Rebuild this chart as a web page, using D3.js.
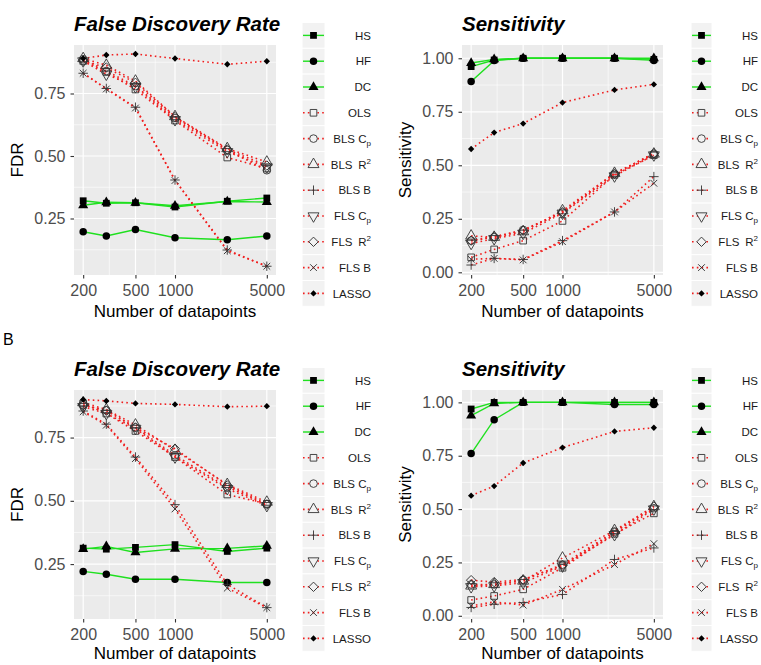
<!DOCTYPE html>
<html>
<head>
<meta charset="utf-8">
<script src="https://cdn.jsdelivr.net/npm/d3@7"></script>
<style>
body { margin: 0; background: #fff; }
text { font-family: "Liberation Sans", Arial, sans-serif; }
</style>
</head>
<body>
<div id="chart"></div>
<script>
// x values (number of datapoints) and tick labels
var datapoints = [200, 300, 500, 1000, 2500, 5000];
var xTicks = [200, 500, 1000, 5000];
var fdrTicks = [0.25, 0.50, 0.75];
var sensTicks = [0.00, 0.25, 0.50, 0.75, 1.00];

var methods = ["HS", "HF", "DC", "OLS", "BLS Cp", "BLS R2", "BLS B", "FLS Cp", "FLS R2", "FLS B", "LASSO"];
var legendLabels = ["HS", "HF", "DC", "OLS", "BLS C_p", "BLS\u2002R^2", "BLS B", "FLS C_p", "FLS\u2002R^2", "FLS B", "LASSO"];

// one row per method, in the order of `methods`
var fdrA = [
  [0.321, 0.311, 0.313, 0.296, 0.319, 0.332],
  [0.197, 0.180, 0.206, 0.173, 0.165, 0.180],
  [0.303, 0.315, 0.313, 0.301, 0.318, 0.316],
  [0.880, 0.836, 0.766, 0.642, 0.494, 0.450],
  [0.887, 0.840, 0.780, 0.652, 0.524, 0.443],
  [0.890, 0.863, 0.800, 0.658, 0.530, 0.476],
  [0.831, 0.770, 0.695, 0.404, 0.124, 0.059],
  [0.880, 0.827, 0.777, 0.645, 0.517, 0.456],
  [0.880, 0.854, 0.793, 0.656, 0.526, 0.462],
  [0.831, 0.768, 0.692, 0.402, 0.121, 0.059],
  [0.890, 0.904, 0.908, 0.890, 0.867, 0.879]
];
var sensA = [
  [0.961, 0.992, 1.000, 1.000, 1.000, 0.995],
  [0.891, 0.989, 1.000, 1.000, 1.000, 0.990],
  [0.978, 0.995, 1.000, 1.000, 1.000, 1.000],
  [0.070, 0.107, 0.148, 0.240, 0.455, 0.547],
  [0.148, 0.164, 0.198, 0.279, 0.460, 0.553],
  [0.170, 0.164, 0.190, 0.288, 0.463, 0.553],
  [0.034, 0.065, 0.060, 0.148, 0.282, 0.447],
  [0.135, 0.157, 0.182, 0.276, 0.450, 0.548],
  [0.148, 0.167, 0.195, 0.282, 0.460, 0.556],
  [0.061, 0.065, 0.058, 0.143, 0.282, 0.416],
  [0.576, 0.653, 0.695, 0.793, 0.852, 0.878]
];
var fdrB = [
  [0.313, 0.309, 0.316, 0.327, 0.300, 0.313],
  [0.221, 0.210, 0.190, 0.190, 0.177, 0.177],
  [0.309, 0.320, 0.296, 0.310, 0.312, 0.322],
  [0.885, 0.845, 0.776, 0.673, 0.525, 0.488],
  [0.878, 0.858, 0.790, 0.680, 0.554, 0.488],
  [0.888, 0.861, 0.800, 0.700, 0.565, 0.495],
  [0.855, 0.803, 0.673, 0.485, 0.170, 0.078],
  [0.872, 0.845, 0.786, 0.673, 0.548, 0.481],
  [0.878, 0.856, 0.790, 0.706, 0.561, 0.485],
  [0.852, 0.799, 0.667, 0.468, 0.155, 0.078],
  [0.900, 0.895, 0.885, 0.881, 0.872, 0.874]
];
var sensB = [
  [0.969, 1.000, 1.000, 1.000, 1.000, 1.000],
  [0.760, 0.919, 1.000, 1.000, 0.990, 0.990],
  [0.938, 0.995, 1.000, 1.000, 1.000, 1.000],
  [0.074, 0.093, 0.124, 0.225, 0.384, 0.480],
  [0.147, 0.147, 0.167, 0.240, 0.395, 0.504],
  [0.140, 0.147, 0.163, 0.271, 0.400, 0.512],
  [0.039, 0.054, 0.062, 0.100, 0.264, 0.318],
  [0.136, 0.140, 0.155, 0.233, 0.380, 0.500],
  [0.167, 0.158, 0.170, 0.236, 0.390, 0.512],
  [0.047, 0.065, 0.050, 0.124, 0.240, 0.338],
  [0.563, 0.608, 0.716, 0.788, 0.864, 0.881]
];

var W = 761, H = 665;
var green = "#1fe01f", red = "#f01e1e";
var fontTick = 16, fontAxis = 17, fontTitle = 20.5, fontLegend = 11.5;

// custom symbols
var plusType = { draw: function(ctx, size) {
  var r = Math.sqrt(size) / 2;
  ctx.moveTo(-r, 0); ctx.lineTo(r, 0);
  ctx.moveTo(0, -r); ctx.lineTo(0, r);
}};
var shapes = [
  {type: d3.symbolSquare, size: 46, fill: true, rot: 0},
  {type: d3.symbolCircle, size: 44, fill: true, rot: 0},
  {type: d3.symbolTriangle, size: 44, fill: true, rot: 0},
  {type: d3.symbolSquare, size: 44, fill: false, rot: 0},
  {type: d3.symbolCircle, size: 46, fill: false, rot: 0},
  {type: d3.symbolTriangle, size: 52, fill: false, rot: 0},
  {type: plusType, size: 90, fill: false, rot: 0},
  {type: d3.symbolTriangle, size: 52, fill: false, rot: 180},
  {type: d3.symbolSquare, size: 44, fill: false, rot: 45},
  {type: plusType, size: 90, fill: false, rot: 45},
  {type: d3.symbolSquare, size: 20, fill: true, rot: 45}
];

var svg = d3.select("#chart").append("svg")
  .attr("width", W).attr("height", H);

var rows = [
  {top: 45, bottom: 275, titleY: 31, xTitleY: 317, legendTop: 22.5},
  {top: 390, bottom: 619, titleY: 376, xTitleY: 659, legendTop: 367.5}
];
var cols = [
  {left: 74, right: 276, yTitleX: 23, keyX: 302, keyW: 23, textX: 371},
  {left: 462, right: 663, yTitleX: 411, keyX: 691, keyW: 21, textX: 758}
];

var panels = [
  {row: 0, col: 0, data: fdrA, title: "False Discovery Rate", ylab: "FDR", ticks: fdrTicks, dom: [0.024, 0.944]},
  {row: 0, col: 1, data: sensA, title: "Sensitivity", ylab: "Sensitivity", ticks: sensTicks, dom: [-0.0126, 1.062]},
  {row: 1, col: 0, data: fdrB, title: "False Discovery Rate", ylab: "FDR", ticks: fdrTicks, dom: [0.033, 0.938]},
  {row: 1, col: 1, data: sensB, title: "Sensitivity", ylab: "Sensitivity", ticks: sensTicks, dom: [-0.015, 1.058]}
];

// ggplot-like 5% expansion on log scale
var ex = Math.pow(5000 / 200, 0.05);

panels.forEach(function(p) {
  var r = rows[p.row], c = cols[p.col];
  var x = d3.scaleLog().domain([200 / ex, 5000 * ex]).range([c.left, c.right]);
  var y = d3.scaleLinear().domain(p.dom).range([r.bottom, r.top]);
  var g = svg.append("g");

  // panel background
  g.append("rect")
    .attr("x", c.left).attr("y", r.top)
    .attr("width", c.right - c.left).attr("height", r.bottom - r.top)
    .attr("fill", "#ebebeb");

  // minor grid
  var step = p.ticks[1] - p.ticks[0];
  var yMinor = [];
  for (var v = p.ticks[0] - step / 2; v < p.dom[1]; v += step) {
    if (v > p.dom[0]) yMinor.push(v);
  }
  var xMinor = [];
  for (var i = 0; i < xTicks.length - 1; i++) xMinor.push(Math.sqrt(xTicks[i] * xTicks[i + 1]));
  g.selectAll(".ymin").data(yMinor).enter().append("line")
    .attr("x1", c.left).attr("x2", c.right)
    .attr("y1", function(d) { return y(d); }).attr("y2", function(d) { return y(d); })
    .attr("stroke", "#fff").attr("stroke-width", 0.6);
  g.selectAll(".xmin").data(xMinor).enter().append("line")
    .attr("y1", r.top).attr("y2", r.bottom)
    .attr("x1", function(d) { return x(d); }).attr("x2", function(d) { return x(d); })
    .attr("stroke", "#fff").attr("stroke-width", 0.6);
  // major grid
  g.selectAll(".ymaj").data(p.ticks).enter().append("line")
    .attr("x1", c.left).attr("x2", c.right)
    .attr("y1", function(d) { return y(d); }).attr("y2", function(d) { return y(d); })
    .attr("stroke", "#fff").attr("stroke-width", 1.2);
  g.selectAll(".xmaj").data(xTicks).enter().append("line")
    .attr("y1", r.top).attr("y2", r.bottom)
    .attr("x1", function(d) { return x(d); }).attr("x2", function(d) { return x(d); })
    .attr("stroke", "#fff").attr("stroke-width", 1.2);

  // axes
  var yAxis = g.append("g")
    .attr("transform", "translate(" + c.left + ",0)")
    .call(d3.axisLeft(y).tickValues(p.ticks).tickFormat(d3.format(".2f")).tickSize(3.5).tickPadding(5));
  var xAxis = g.append("g")
    .attr("transform", "translate(0," + r.bottom + ")")
    .call(d3.axisBottom(x).tickValues(xTicks).tickFormat(d3.format("d")).tickSize(3.5).tickPadding(6));
  [xAxis, yAxis].forEach(function(a) {
    a.select(".domain").remove();
    a.selectAll(".tick line").attr("stroke", "#333").attr("stroke-width", 1.1);
    a.selectAll(".tick text").attr("fill", "#4d4d4d")
      .style("font-size", fontTick + "px").style("font-family", "'Liberation Sans', Arial, sans-serif");
  });

  // titles
  g.append("text")
    .attr("x", c.left).attr("y", r.titleY)
    .style("font-size", fontTitle + "px").style("font-weight", "bold").style("font-style", "italic")
    .text(p.title);
  g.append("text")
    .attr("x", (c.left + c.right) / 2).attr("y", r.xTitleY)
    .attr("text-anchor", "middle")
    .style("font-size", fontAxis + "px")
    .text("Number of datapoints");
  g.append("text")
    .attr("transform", "translate(" + c.yTitleX + "," + (r.top + r.bottom) / 2 + ") rotate(-90)")
    .attr("text-anchor", "middle")
    .style("font-size", fontAxis + "px")
    .text(p.ylab);

  // lines
  var line = d3.line()
    .x(function(d) { return x(d.n); })
    .y(function(d) { return y(d.v); });
  var series = methods.map(function(m, i) {
    return {i: i, pts: datapoints.map(function(n, j) { return {n: n, v: p.data[i][j]}; })};
  });
  g.selectAll(".series").data(series).enter().append("path")
    .attr("d", function(d) { return line(d.pts); })
    .attr("fill", "none")
    .attr("stroke", function(d) { return d.i < 3 ? green : red; })
    .attr("stroke-width", function(d) { return d.i < 3 ? 1.4 : 1.6; })
    .attr("stroke-dasharray", function(d) { return d.i < 3 ? null : "1.6,3.2"; });

  // points
  series.forEach(function(s) {
    var sh = shapes[s.i];
    var sym = d3.symbol().type(sh.type).size(sh.size);
    g.selectAll(null).data(s.pts).enter().append("path")
      .attr("d", sym)
      .attr("transform", function(d) { return "translate(" + x(d.n) + "," + y(d.v) + ") rotate(" + sh.rot + ")"; })
      .attr("fill", sh.fill ? "#000" : "none")
      .attr("stroke", sh.fill ? "none" : "#333")
      .attr("stroke-width", 0.9);
  });
});

// legends
rows.forEach(function(r) {
  cols.forEach(function(c) {
    var keyH = 25.8;
    var lg = svg.append("g");
    methods.forEach(function(m, i) {
      var ky = r.legendTop + i * keyH;
      lg.append("rect")
        .attr("x", c.keyX).attr("y", ky)
        .attr("width", c.keyW).attr("height", keyH)
        .attr("fill", "#f2f2f2").attr("stroke", "#fff").attr("stroke-width", 1);
      var cy = ky + keyH / 2, cx = c.keyX + c.keyW / 2;
      lg.append("line")
        .attr("x1", c.keyX + 1).attr("x2", c.keyX + c.keyW - 1)
        .attr("y1", cy).attr("y2", cy)
        .attr("stroke", i < 3 ? green : red)
        .attr("stroke-width", i < 3 ? 1.4 : 1.6)
        .attr("stroke-dasharray", i < 3 ? null : "1.6,3.2");
      var sh = shapes[i];
      lg.append("path")
        .attr("d", d3.symbol().type(sh.type).size(sh.size)())
        .attr("transform", "translate(" + cx + "," + cy + ") rotate(" + sh.rot + ")")
        .attr("fill", sh.fill ? "#000" : (i < 3 ? "#000" : "#f2f2f2"))
        .attr("stroke", sh.fill ? "none" : "#333")
        .attr("stroke-width", 0.9);
      // label with sub/superscript
      var lab = legendLabels[i];
      var t = lg.append("text")
        .attr("x", c.textX).attr("y", cy + fontLegend * 0.36)
        .attr("text-anchor", "end")
        .attr("fill", "#1a1a1a")
        .style("font-size", fontLegend + "px");
      var mSub = lab.split("_"), mSup = lab.split("^");
      if (mSub.length > 1) {
        t.append("tspan").text(mSub[0]);
        t.append("tspan").attr("dy", 3).style("font-size", (fontLegend * 0.7) + "px").text(mSub[1]);
      } else if (mSup.length > 1) {
        t.append("tspan").text(mSup[0]);
        t.append("tspan").attr("dy", -5).style("font-size", (fontLegend * 0.7) + "px").text(mSup[1]);
      } else {
        t.text(lab);
      }
    });
  });
});

// panel tag
svg.append("text")
  .attr("x", 3).attr("y", 345)
  .style("font-size", "16px")
  .text("B");
</script>
</body>
</html>
